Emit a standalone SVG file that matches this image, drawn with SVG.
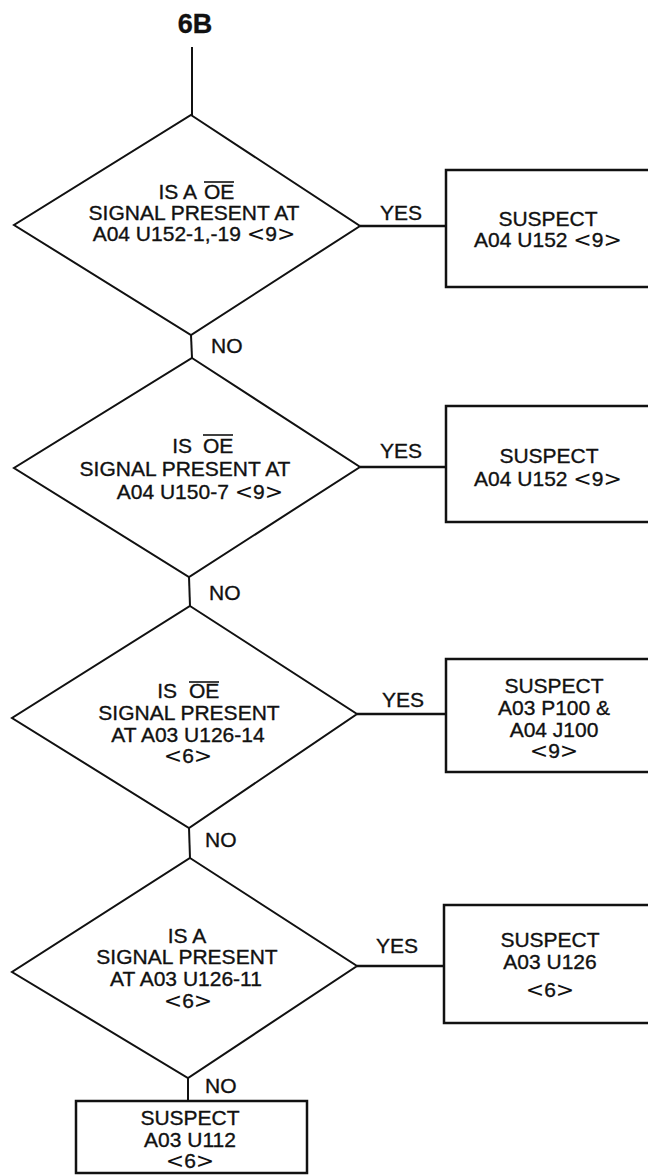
<svg xmlns="http://www.w3.org/2000/svg" width="648" height="1175" viewBox="0 0 648 1175">
<style>
text{font-family:"Liberation Sans",Arial,sans-serif;font-size:21px;fill:#111;stroke:#111;stroke-width:0.35px}
.c{text-anchor:middle}
.e{text-anchor:end}
.br{font-family:"DejaVu Sans",sans-serif;font-size:22px;stroke-width:0}
.title{font-weight:bold;font-size:27px}
.shape{fill:none;stroke:#111;stroke-width:2}
.box{fill:none;stroke:#111;stroke-width:2.5}
.wire{fill:none;stroke:#111;stroke-width:2}
.yes{fill:none;stroke:#111;stroke-width:2.5}
.ov{stroke:#111;stroke-width:1.6}
</style>
<rect x="0" y="0" width="648" height="1175" fill="#fff"/>
<g id="connectors">
<line class="wire" x1="192" y1="47" x2="192" y2="115"/>
<line class="wire" x1="191" y1="335" x2="192" y2="358"/>
<line class="wire" x1="189" y1="577" x2="190" y2="606"/>
<line class="wire" x1="189" y1="828" x2="190" y2="858"/>
<line class="wire" x1="188" y1="1078" x2="188" y2="1101"/>
<line class="yes" x1="360" y1="226" x2="446" y2="226"/>
<line class="yes" x1="360" y1="467" x2="446" y2="467"/>
<line class="yes" x1="357" y1="714" x2="446" y2="714"/>
<line class="yes" x1="357" y1="966" x2="444" y2="966"/>
<text x="380" y="220">YES</text>
<text x="211" y="353">NO</text>
<text x="380" y="458">YES</text>
<text x="209" y="600">NO</text>
<text x="382" y="707">YES</text>
<text x="205" y="847">NO</text>
<text x="376" y="953">YES</text>
<text x="205" y="1093">NO</text>
</g>
<g id="start">
<text class="c title" x="195" y="33">6B</text>
</g>
<g id="d1">
<polygon class="shape" points="191,115 360,226 191,335 14,225"/>
<text class="e" x="197" y="199">IS A</text>
<text x="204" y="199">OE</text>
<line class="ov" x1="204" y1="182" x2="234" y2="182"/>
<text class="c" x="194" y="220">SIGNAL PRESENT AT</text>
<text class="c" x="194" y="241">A04 U152-1,-19 <tspan class="br">&lt;</tspan>9<tspan class="br">&gt;</tspan></text>
</g>
<g id="b1">
<rect class="box" x="446" y="170" width="220" height="117"/>
<text class="c" x="548" y="226">SUSPECT</text>
<text class="c" x="548" y="247">A04 U152 <tspan class="br">&lt;</tspan>9<tspan class="br">&gt;</tspan></text>
</g>
<g id="d2">
<polygon class="shape" points="192,358 360,467 189,577 14,468"/>
<text class="e" x="192" y="453">IS</text>
<text x="203" y="453">OE</text>
<line class="ov" x1="203" y1="435" x2="233" y2="435"/>
<text class="c" x="185" y="476">SIGNAL PRESENT AT</text>
<text class="c" x="200" y="499">A04 U150-7 <tspan class="br">&lt;</tspan>9<tspan class="br">&gt;</tspan></text>
</g>
<g id="b2">
<rect class="box" x="446" y="406" width="220" height="116"/>
<text class="c" x="549" y="463">SUSPECT</text>
<text class="c" x="548" y="486">A04 U152 <tspan class="br">&lt;</tspan>9<tspan class="br">&gt;</tspan></text>
</g>
<g id="d3">
<polygon class="shape" points="190,606 357,714 189,828 12,718"/>
<text class="e" x="177" y="698">IS</text>
<text x="189" y="698">OE</text>
<line class="ov" x1="189" y1="682" x2="219" y2="682"/>
<text class="c" x="189" y="720">SIGNAL PRESENT</text>
<text class="c" x="188" y="742">AT A03 U126-14</text>
<text class="c" x="188" y="763"><tspan class="br">&lt;</tspan>6<tspan class="br">&gt;</tspan></text>
</g>
<g id="b3">
<rect class="box" x="446" y="659" width="220" height="113"/>
<text class="c" x="554" y="693">SUSPECT</text>
<text class="c" x="554" y="715">A03 P100 &amp;</text>
<text class="c" x="554" y="737">A04 J100</text>
<text class="c" x="554" y="758"><tspan class="br">&lt;</tspan>9<tspan class="br">&gt;</tspan></text>
</g>
<g id="d4">
<polygon class="shape" points="190,858 357,966 188,1078 12,972"/>
<text class="c" x="187" y="943">IS A</text>
<text class="c" x="187" y="964">SIGNAL PRESENT</text>
<text class="c" x="186" y="986">AT A03 U126-11</text>
<text class="c" x="188" y="1008"><tspan class="br">&lt;</tspan>6<tspan class="br">&gt;</tspan></text>
</g>
<g id="b4">
<rect class="box" x="444" y="905" width="222" height="118"/>
<text class="c" x="550" y="947">SUSPECT</text>
<text class="c" x="550" y="969">A03 U126</text>
<text class="c" x="550" y="997"><tspan class="br">&lt;</tspan>6<tspan class="br">&gt;</tspan></text>
</g>
<g id="b5">
<rect class="box" x="76" y="1101" width="231" height="72"/>
<text class="c" x="190" y="1125">SUSPECT</text>
<text class="c" x="190" y="1147">A03 U112</text>
<text class="c" x="190" y="1168"><tspan class="br">&lt;</tspan>6<tspan class="br">&gt;</tspan></text>
</g>
</svg>
